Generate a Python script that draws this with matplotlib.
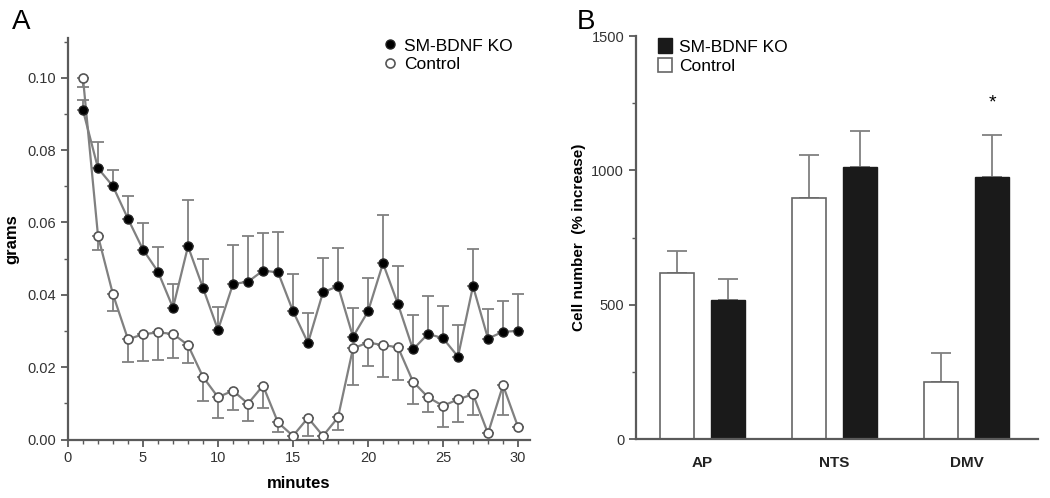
import numpy as np
import matplotlib.pyplot as plt
from matplotlib.ticker import MultipleLocator

plt.rcParams['font.family'] = ['Liberation Sans', 'DejaVu Sans']

# ===== Panel A data =====
minutes = np.arange(1, 31)
ko_mean = [0.091, 0.075, 0.070, 0.061, 0.0525, 0.0464, 0.0364, 0.0534, 0.0419, 0.0303,
           0.043, 0.0436, 0.0467, 0.0462, 0.0355, 0.0267, 0.0407, 0.0424, 0.0284, 0.0354,
           0.0487, 0.0374, 0.0249, 0.0292, 0.028, 0.0229, 0.0424, 0.0279, 0.0298, 0.030]
ko_upper = [0.0938, 0.0822, 0.0746, 0.0673, 0.0599, 0.0531, 0.0429, 0.0663, 0.0499, 0.0366,
            0.0538, 0.0562, 0.0572, 0.0574, 0.0458, 0.035, 0.0502, 0.0529, 0.0364, 0.0447,
            0.062, 0.0481, 0.0343, 0.0398, 0.0369, 0.0317, 0.0527, 0.0362, 0.0383, 0.0401]
ctrl_mean = [0.0999, 0.0563, 0.0401, 0.0277, 0.0291, 0.0296, 0.0292, 0.0261, 0.0173, 0.0117,
             0.0135, 0.0099, 0.0149, 0.0047, 0.001, 0.006, 0.001, 0.0061, 0.0252, 0.0268,
             0.0261, 0.0255, 0.016, 0.0117, 0.0093, 0.0111, 0.0125, 0.0017, 0.015, 0.0035]
ctrl_lower = [0.0975, 0.0525, 0.0355, 0.0213, 0.0218, 0.022, 0.0224, 0.0211, 0.0106, 0.0059,
              0.0081, 0.0052, 0.0086, 0.002, 0.001, 0.001, 0.001, 0.0026, 0.015, 0.0202,
              0.0172, 0.0165, 0.0097, 0.0075, 0.0035, 0.0049, 0.0067, 0.0017, 0.0069, 0.0035]

# ===== Panel B data =====
regions = ['AP', 'NTS', 'DMV']
ctrl_cells = [619, 897, 214]
ctrl_cells_err = [81, 160, 106]
ko_cells = [518, 1012, 976]
ko_cells_err = [79, 135, 156]

axis_col = '#5a5a5a'
line_col = '#808080'

fig = plt.figure(figsize=(10.5, 4.98), dpi=100)
axA = fig.add_axes([68/1050, 1-439.5/498, 462/1050, 401.5/498])
axB = fig.add_axes([636/1050, 1-439.3/498, 402/1050, 403.3/498])

# ===== Panel A =====
ko_err = [np.zeros(30), np.array(ko_upper) - np.array(ko_mean)]
ctrl_err = [np.array(ctrl_mean) - np.array(ctrl_lower), np.zeros(30)]

axA.errorbar(minutes, ctrl_mean, yerr=ctrl_err, fmt='none', ecolor=line_col,
             elinewidth=1.3, capsize=4, capthick=1.3, zorder=2)
axA.errorbar(minutes, ko_mean, yerr=ko_err, fmt='none', ecolor=line_col,
             elinewidth=1.3, capsize=4, capthick=1.3, zorder=2)
axA.plot(minutes, ko_mean, '-', color=line_col, lw=1.6, zorder=3)
axA.plot(minutes, ctrl_mean, '-', color=line_col, lw=1.6, zorder=3)
axA.plot(minutes, ko_mean, 'o', mfc='black', mec='#222222', ms=6.5, zorder=4,
         label='SM-BDNF KO')
axA.plot(minutes, ctrl_mean, 'o', mfc='white', mec='#555555', mew=1.2, ms=6.5, zorder=4,
         label='Control')

axA.set_xlim(0, 30.8)
axA.set_ylim(0, 0.111)
axA.xaxis.set_major_locator(MultipleLocator(5))
axA.xaxis.set_minor_locator(MultipleLocator(1))
axA.yaxis.set_major_locator(MultipleLocator(0.02))
axA.yaxis.set_minor_locator(MultipleLocator(0.01))
axA.yaxis.set_major_formatter(plt.FuncFormatter(lambda v, p: f'{v:.2f}'))
axA.set_xlabel('minutes', fontsize=12, fontweight='bold')
axA.xaxis.set_label_coords(0.5, -0.09)
axA.set_ylabel('grams', fontsize=12, fontweight='bold', labelpad=6)
axA.legend(loc='upper left', bbox_to_anchor=(0.66, 1.025), frameon=False, fontsize=12.5,
           handlelength=0.8, handletextpad=0.4, labelspacing=0.2, borderaxespad=0.2)

# ===== Panel B =====
x = np.arange(len(regions))
w = 0.257
off = 0.193
axB.bar(x - off, ctrl_cells, w, color='white', edgecolor='#666666', lw=1.2,
        label='Control', zorder=2)
axB.bar(x + off, ko_cells, w, color='#1a1a1a', edgecolor='#1a1a1a', lw=1.0,
        label='SM-BDNF KO', zorder=2)
axB.errorbar(x - off, ctrl_cells, yerr=[np.zeros(3), ctrl_cells_err], fmt='none',
             ecolor=line_col, elinewidth=1.3, capsize=7, capthick=1.3, zorder=1)
axB.errorbar(x + off, ko_cells, yerr=[np.zeros(3), ko_cells_err], fmt='none',
             ecolor=line_col, elinewidth=1.3, capsize=7, capthick=1.3, zorder=1)
axB.text(x[2] + off, 1250, '*', ha='center', va='center', fontsize=14)

axB.set_xlim(-0.5, 2.54)
axB.set_ylim(0, 1500)
axB.set_xticks(x)
axB.set_xticklabels(regions, fontsize=11, fontweight='bold')
axB.tick_params(axis='x', length=0, pad=12)
axB.yaxis.set_major_locator(MultipleLocator(500))
axB.yaxis.set_minor_locator(MultipleLocator(250))
axB.set_ylabel('Cell number  (% increase)', fontsize=11, fontweight='bold', labelpad=4)
h, l = axB.get_legend_handles_labels()
axB.legend(h[::-1], l[::-1], loc='upper left', bbox_to_anchor=(0.03, 1.02), frameon=False,
           fontsize=12.5, handlelength=0.8, handleheight=0.9, handletextpad=0.4,
           labelspacing=0.2, borderaxespad=0.2)

for ax in (axA, axB):
    for s in ('top', 'right'):
        ax.spines[s].set_visible(False)
    for s in ('left', 'bottom'):
        ax.spines[s].set_color(axis_col)
        ax.spines[s].set_linewidth(1.6)
    ax.tick_params(which='both', color=axis_col, labelcolor='#333333', labelsize=10.5)
    ax.tick_params(which='major', length=5, width=1.3)
    ax.tick_params(which='minor', length=3, width=1.0)

axB.tick_params(axis='x', length=0, labelsize=11, labelcolor='#222222')

fig.text(12/1050, 1-22/498, 'A', fontsize=20, va='center', ha='left')
fig.text(577/1050, 1-22/498, 'B', fontsize=20, va='center', ha='left')

plt.savefig('out.png', dpi=100)
